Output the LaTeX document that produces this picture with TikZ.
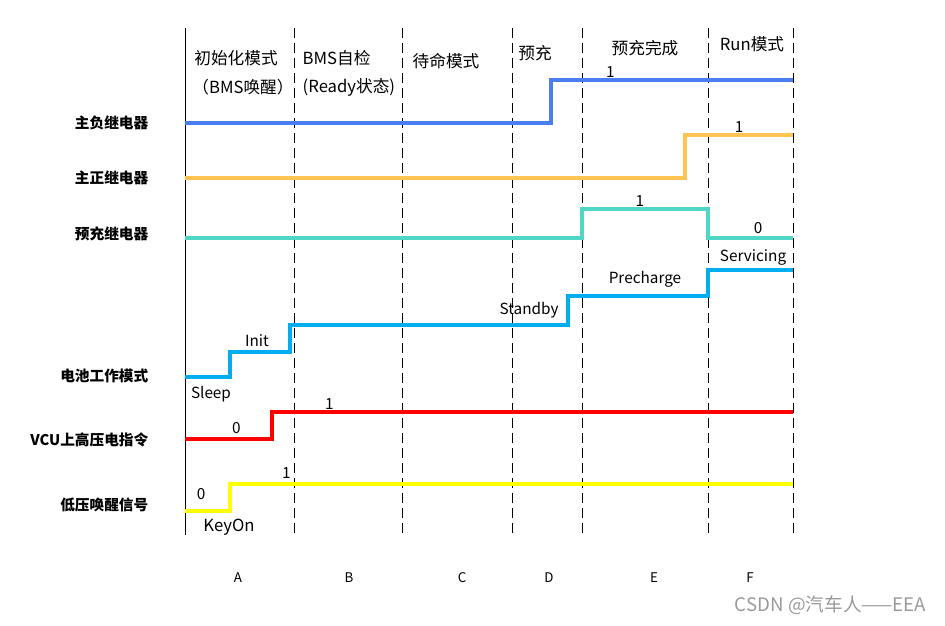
\documentclass[tikz,border=0pt]{standalone}
\usepackage{fontspec}
\setmainfont{Noto Sans CJK SC}
\usetikzlibrary{positioning}

\definecolor{negblue}{HTML}{4A7CF2}
\definecolor{posorange}{HTML}{FFC550}
\definecolor{preteal}{HTML}{50D6C4}
\definecolor{modeblue}{HTML}{00AEEF}
\definecolor{hvred}{HTML}{FF0000}
\definecolor{lvyellow}{HTML}{FFFF00}

\begin{document}
\begin{tikzpicture}[x=0.75pt, y=-0.75pt, font=\fontsize{12.5}{14}\selectfont,
   phase/.style={black, line width=0.6pt, dash pattern=on 7.5pt off 3.75pt},
   sig/.style={line width=2.5pt, line join=miter},
   row/.style={anchor=east, font=\fontsize{11}{13}\selectfont\bfseries},
   val/.style={text=black, font=\fontsize{11.5}{13}\selectfont, inner sep=1pt},
   tag/.style={text=black, font=\fontsize{11.5}{13}\selectfont, inner sep=1pt},
   sect/.style={font=\fontsize{10}{12}\selectfont}]
\useasboundingbox (0,0) rectangle (945,625);
% phase borders
\draw[black, line width=0.75pt] (185,28) -- (185,535);
\foreach \x in {294,402,512,582,708,793}
   \draw[phase] (\x,28) -- (\x,535);
% phase titles
\node (tA)  at (236,58) {初始化模式};
\node (tA2) at (243,87) {（BMS唤醒）};
\node[anchor=west] (tB)  at (298,58) {BMS自检};
\node[anchor=west] (tB2) at (298,87) {(Ready状态)};
\node (tC) at (446,61) {待命模式};
\node (tD) at (535,53) {预充};
\node (tE) at (645,48) {预充完成};
\node (tF) at (752,44) {Run模式};
% row names
\node[row] (rNeg)  at (153,123) {主负继电器};
\node[row] (rPos)  at (153,178) {主正继电器};
\node[row] (rPre)  at (153,234) {预充继电器};
\node[row] (rMode) at (153,376) {电池工作模式};
\node[row] (rHV)   at (153,440) {VCU上高压电指令};
\node[row] (rLV)   at (153,505) {低压唤醒信号};
% traces
\draw[sig, negblue] (185,123) -- (551,123) -- (551,80)
   -- node[val, pos=0.245, above=0pt]{1} (793,80);
\draw[sig, posorange] (185,178) -- (685,178) -- (685,135)
   -- node[val, pos=0.5, above=0pt]{1} (793,135);
\draw[sig, preteal] (185,238) -- (582,238) -- (582,209)
   -- node[val, pos=0.46, above=0pt]{1} (708,209) -- (708,238)
   -- node[val, pos=0.59, above=1pt]{0} (793,238);
\draw[sig, modeblue] (185,377) -- (230,377) -- (230,352)
   -- node[tag, pos=0.45, above=2pt]{Init} (290,352) -- (290,325)
   -- node[tag, pos=0.86, above=3pt]{Standby} (568,325) -- (568,296)
   -- node[tag, pos=0.55, above=4pt]{Precharge} (708,296) -- (708,270)
   -- node[tag, pos=0.53, above=1pt]{Servicing} (793,270);
\node[tag] (sleep) at (211,394) {Sleep};
\draw[sig, hvred] (185,439) -- node[val, pos=0.59, above=2pt]{0} (272,439)
   -- (272,412) -- node[val, pos=0.11, above=0pt]{1} (793,412);
\draw[sig, lvyellow] (185,511) -- node[val, pos=0.36, above=6pt]{0} (230,511)
   -- (230,484) -- node[val, pos=0.1, above=2pt]{1} (793,484);
\node[tag, font=\fontsize{12.5}{14}\selectfont] (keyon) at (229,527) {KeyOn};
% phase letters
\foreach \l/\x in {A/238,B/349,C/462,D/549,E/654,F/750}
   \node[sect] (s\l) at (\x,578) {\l};
\node[anchor=east, text=black!40, font=\fontsize{14}{16}\selectfont] (mark) at (931,605) {CSDN @汽车人——EEA};
\end{tikzpicture}
\end{document}
